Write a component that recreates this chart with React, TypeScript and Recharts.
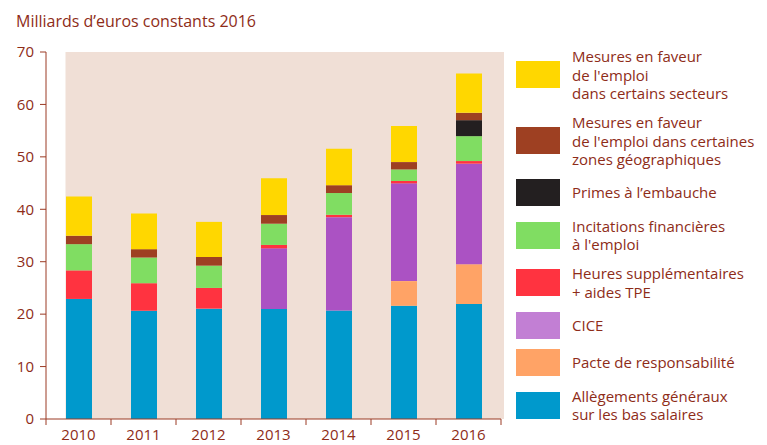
import { BarChart, Bar, XAxis, YAxis, ReferenceArea, Legend } from "recharts";

const years = ["2010", "2011", "2012", "2013", "2014", "2015", "2016"];

// Milliards d'euros constants 2016
const allegements = [22.9, 20.65, 21.05, 21.0, 20.7, 21.6, 21.95];
const pacte = [0, 0, 0, 0, 0, 4.7, 7.55];
const cice = [0, 0, 0, 11.55, 17.8, 18.65, 19.2];
const heuresSupp = [5.45, 5.25, 3.95, 0.65, 0.45, 0.45, 0.5];
const incitations = [5.0, 4.9, 4.25, 4.05, 4.15, 2.2, 4.75];
const primes = [0, 0, 0, 0, 0, 0, 3.05];
const zonesGeo = [1.6, 1.6, 1.65, 1.65, 1.5, 1.4, 1.4];
const secteurs = [7.5, 6.8, 6.7, 7.0, 6.95, 6.9, 7.5];

const yTicks = [0, 10, 20, 30, 40, 50, 60, 70];

const TEXT = "#8e2c18";
const AXIS = "#9b3a24";
const BG = "#f0dfd6";
const FONT = "'Open Sans', sans-serif";

const W = 767;
const H = 445;
const MARGIN = { top: 52, right: 266, bottom: 0, left: 0 };
const Y_AXIS_W = 46;
const X_AXIS_H = 26;
const BAR_SIZE = 26;
const BAND = (W - MARGIN.left - MARGIN.right - Y_AXIS_W) / years.length;

// stack order, bottom to top
const series = [
  { key: "allegements", name: "Allègements généraux\nsur les bas salaires", color: "#0099cc", legend: "#0099cc" },
  { key: "pacte", name: "Pacte de responsabilité", color: "#ffa366", legend: "#ffa366" },
  { key: "cice", name: "CICE", color: "#ab52c3", legend: "#c27fd4" },
  { key: "heuresSupp", name: "Heures supplémentaires\n+ aides TPE", color: "#ff3340", legend: "#ff3340" },
  { key: "incitations", name: "Incitations financières\nà l'emploi", color: "#80dd62", legend: "#80dd62" },
  { key: "primes", name: "Primes à l’embauche", color: "#231f20", legend: "#231f20" },
  { key: "zonesGeo", name: "Mesures en faveur\nde l'emploi dans certaines\nzones géographiques", color: "#9e4022", legend: "#9e4022" },
  { key: "secteurs", name: "Mesures en faveur\nde l'emploi\ndans certains secteurs", color: "#ffd700", legend: "#ffd700" },
];

const data = years.map((year, i) => ({
  year,
  allegements: allegements[i],
  pacte: pacte[i],
  cice: cice[i],
  heuresSupp: heuresSupp[i],
  incitations: incitations[i],
  primes: primes[i],
  zonesGeo: zonesGeo[i],
  secteurs: secteurs[i],
}));

const seriesIndex = (key: string) => series.findIndex((s) => s.key === key);

function PlotBackground(props: any) {
  const { x, y, width, height } = props;
  const inset = (BAND - BAR_SIZE) / 2;
  return <rect x={x + inset} y={y} width={width - inset + 3} height={height} fill={BG} />;
}

function YearTick(props: any) {
  const { x, y, payload, index } = props;
  const half = BAND / 2;
  return (
    <g>
      <line x1={x - half} y1={y} x2={x - half} y2={y + 6} stroke={AXIS} strokeWidth={1} />
      {index === years.length - 1 && (
        <line x1={x + half} y1={y} x2={x + half} y2={y + 6} stroke={AXIS} strokeWidth={1} />
      )}
      <text x={x} y={y + 21} textAnchor="middle" fill={TEXT} fontSize={15} fontFamily={FONT}>
        {payload.value}
      </text>
    </g>
  );
}

function LegendList(props: any) {
  // top of the stack first
  const items = [...(props.payload || [])].sort(
    (a: any, b: any) => seriesIndex(b.dataKey) - seriesIndex(a.dataKey)
  );
  return (
    <div style={{ display: "flex", flexDirection: "column", gap: 10.5 }}>
      {items.map((item: any) => {
        const s = series[seriesIndex(item.dataKey)];
        return (
          <div key={item.dataKey} style={{ display: "flex", alignItems: "center", minHeight: 27 }}>
            <div style={{ width: 44, height: 27, background: s ? s.legend : item.color, flexShrink: 0 }} />
            <div
              style={{
                marginLeft: 12,
                whiteSpace: "pre-line",
                fontSize: 15,
                lineHeight: "18.5px",
                color: TEXT,
                fontFamily: FONT,
                textAlign: "left",
              }}
            >
              {item.value}
            </div>
          </div>
        );
      })}
    </div>
  );
}

export default function App() {
  return (
    <div style={{ position: "absolute", left: 0, top: 0, width: W, height: H, background: "#fff", overflow: "hidden" }}>
      <div
        style={{
          position: "absolute",
          left: 16,
          top: 11,
          fontSize: 16,
          lineHeight: "20px",
          color: TEXT,
          fontFamily: FONT,
        }}
      >
        Milliards d’euros constants 2016
      </div>
      <BarChart width={W} height={H} data={data} margin={MARGIN} barSize={BAR_SIZE}>
        <ReferenceArea x1="2010" x2="2016" y1={0} y2={70} shape={PlotBackground} ifOverflow="visible" />
        <XAxis
          dataKey="year"
          height={X_AXIS_H}
          axisLine={{ stroke: AXIS }}
          tickLine={false}
          tickSize={0}
          tickMargin={0}
          tick={<YearTick />}
          interval={0}
        />
        <YAxis
          width={Y_AXIS_W}
          domain={[0, 70]}
          ticks={yTicks}
          axisLine={{ stroke: AXIS }}
          tickLine={{ stroke: AXIS }}
          tickSize={6}
          tickMargin={6}
          tick={{ fill: TEXT, fontSize: 15, fontFamily: FONT }}
        />
        <Legend
          layout="vertical"
          align="center"
          verticalAlign="middle"
          content={<LegendList />}
          wrapperStyle={{ left: 516, top: 47, width: 251 }}
        />
        {series.map((s) => (
          <Bar
            key={s.key}
            dataKey={s.key}
            name={s.name}
            stackId="a"
            fill={s.color}
            isAnimationActive={false}
          />
        ))}
      </BarChart>
    </div>
  );
}
